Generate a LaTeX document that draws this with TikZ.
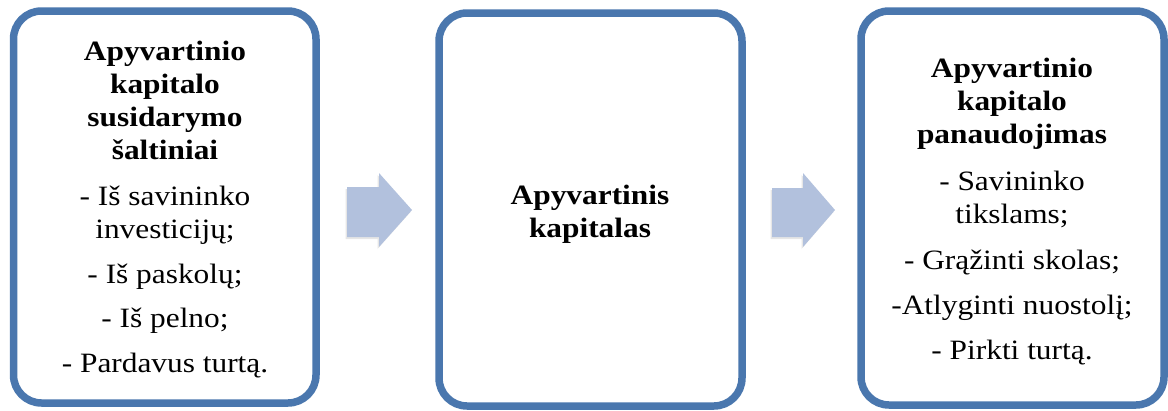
\documentclass[tikz,border=0pt]{standalone}
\usepackage{fontspec}
\setmainfont{Liberation Serif}
\usepackage{graphicx}
\usetikzlibrary{shadows}
\definecolor{boxblue}{HTML}{4A77AE}
\definecolor{arrowblue}{HTML}{B2C1DD}
\tikzset{
  stagebox/.style={draw=boxblue, line width=7.5pt, rounded corners=28pt, fill=white,
    drop shadow={shadow xshift=-1.5pt, shadow yshift=-2.5pt, opacity=0.25, fill=black!60}},
  flowarrow/.style={fill=arrowblue, draw=none,
    drop shadow={shadow xshift=-1.5pt, shadow yshift=-2pt, opacity=0.2}},
  boxtext/.style={anchor=base, inner sep=0pt, font=\fontsize{28}{33}\selectfont}
}
\newcommand{\wide}[1]{\scalebox{1.12}[1]{#1}}
\begin{document}
\begin{tikzpicture}[x=1pt,y=-1pt]
\useasboundingbox (0,0) rectangle (1168,410);
% boxes
\draw[stagebox] (13.5,11) rectangle (316,403);
\draw[stagebox] (439,13) rectangle (742,406);
\draw[stagebox] (861,11) rectangle (1164,405);
% arrows
\fill[flowarrow] (347,187) -- (379,187) -- (379,173) -- (412,210) -- (379,247) -- (379,237) -- (347,237) -- cycle;
\fill[flowarrow] (772,188) -- (803,188) -- (803,173) -- (835,210) -- (803,247) -- (803,237) -- (772,237) -- cycle;
% texts
\node[boxtext] (t1) at (165,60) {\wide{\begin{tabular}[t]{@{}c@{}}
\textbf{Apyvartinio}\\ \textbf{kapitalo}\\ \textbf{susidarymo}\\ \textbf{šaltiniai}\\[13pt]
- Iš savininko\\ investicijų;\\[12pt]
- Iš paskolų;\\[11pt]
- Iš pelno;\\[12pt]
- Pardavus turtą.
\end{tabular}}};
\node[boxtext] (t2) at (590,204) {\wide{\begin{tabular}[t]{@{}c@{}}
\textbf{Apyvartinis}\\ \textbf{kapitalas}
\end{tabular}}};
\node[boxtext] (t3) at (1012,77) {\wide{\begin{tabular}[t]{@{}c@{}}
\textbf{Apyvartinio}\\ \textbf{kapitalo}\\ \textbf{panaudojimas}\\[14pt]
- Savininko\\ tikslams;\\[13pt]
- Grąžinti skolas;\\[12pt]
-Atlyginti nuostolį;\\[12pt]
- Pirkti turtą.
\end{tabular}}};
\end{tikzpicture}
\end{document}
